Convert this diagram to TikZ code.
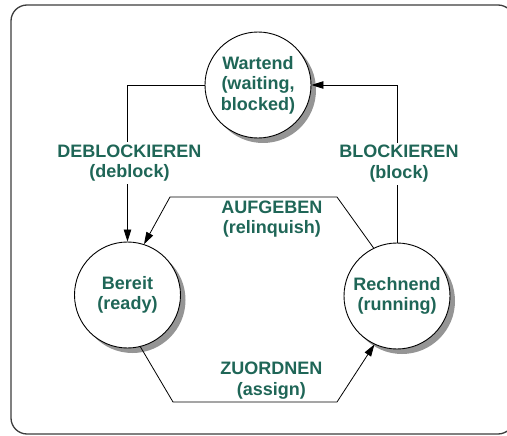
\documentclass[tikz,border=0pt]{standalone}
\usepackage{fontspec}
\setmainfont{Liberation Sans}
\usetikzlibrary{positioning,arrows.meta,shadows}
\definecolor{ink}{HTML}{1F6657}
\definecolor{rim}{HTML}{3C3C3C}
\definecolor{shade}{HTML}{959595}
\tikzset{
  proc/.style={circle, draw=black, fill=white, line width=0.9pt, minimum size=106pt, inner sep=0pt, align=center,
    font=\fontsize{18}{20.5}\selectfont\bfseries, text=ink,
    drop shadow={shadow xshift=5pt, shadow yshift=-5pt, fill=shade, opacity=1}},
  lab/.style={font=\fontsize{18}{20.5}\selectfont\bfseries, text=ink, align=center, fill=white, inner sep=2.5pt},
  flow/.style={-{Triangle[length=12pt, width=7.5pt]}, draw=black, line width=0.8pt},
  frame/.style={draw=rim, line width=1.3pt, rounded corners=16pt},
}
\begin{document}
\begin{tikzpicture}[x=1pt, y=-1pt]
    \useasboundingbox (0,0) rectangle (507,436);
    \draw[frame] (11,5) rectangle (514,434);
    % the three process states
    \node[proc] (w) at (258,85) {Wartend\\(waiting,\\blocked)};
    \node[proc] (b) at (127.5,295) {Bereit\\(ready)};
    \node[proc] (r) at (397,296) {Rechnend\\(running)};
    % transitions
    \draw[flow] (w.west) -| node[lab, pos=0.75, xshift=2pt] (deb) {DEBLOCKIEREN\\(deblock)} (b.north);
    \draw[flow] (r.north) |- node[lab, pos=0.25, xshift=2pt] (blk) {BLOCKIEREN\\(block)} (w.east);
    \draw[flow] (r.116) -- (337,197) -- node[lab, below, pos=0.39, fill=none, yshift=-1pt] (auf) {AUFGEBEN\\(relinquish)} (170,197) -- (b.72);
    \draw[flow] (b.-76) -- (173,402) -- node[lab, above, pos=0.6, fill=none] (zuo) {ZUORDNEN\\(assign)} (337,402) -- (r.245);
\end{tikzpicture}
\end{document}
